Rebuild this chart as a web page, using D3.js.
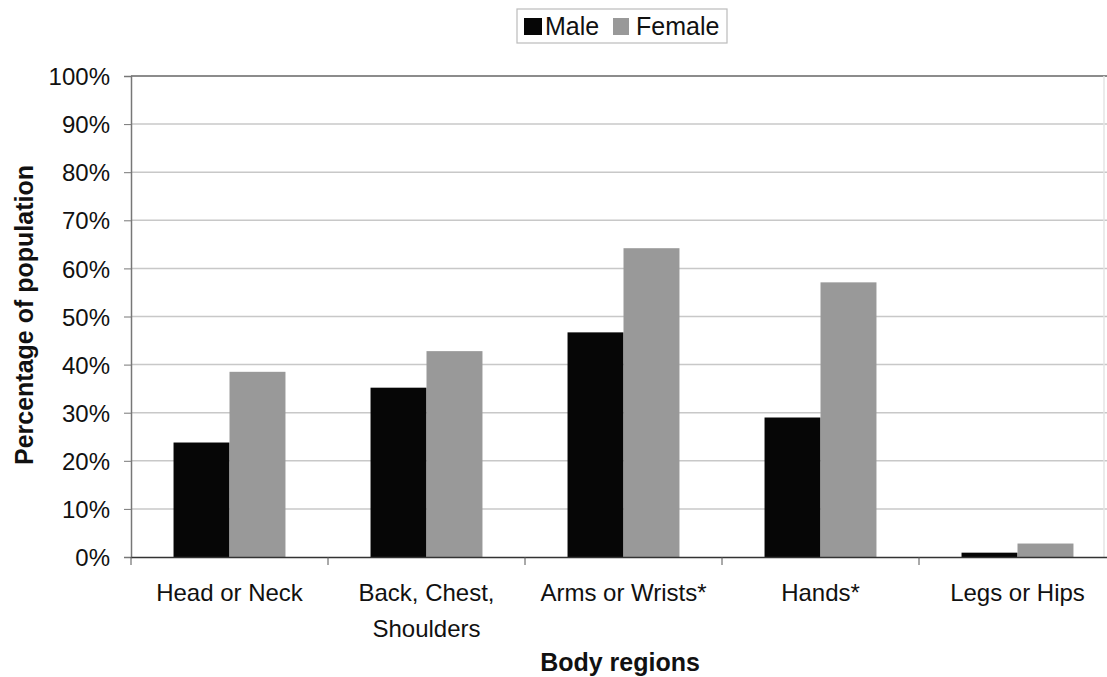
<!DOCTYPE html>
<html><head><meta charset="utf-8">
<script src="https://cdn.jsdelivr.net/npm/d3@7"></script>
<style>body{margin:0;background:#fff}svg{display:block;font-family:"Liberation Sans",Arial,sans-serif}</style>
</head><body><svg id="c" width="1107" height="677"></svg>
<script>
const categories = [["Head or Neck"],["Back, Chest,","Shoulders"],["Arms or Wrists*"],["Hands*"],["Legs or Hips"]];
const seriesNames = ["Male","Female"];
const male = [23.8, 35.2, 46.7, 29.0, 0.9];
const female = [38.5, 42.8, 64.2, 57.1, 2.8];
const yTicks = [0,10,20,30,40,50,60,70,80,90,100];
const colors = ["#060606","#999999"];

const svg = d3.select("#c");
const L = 131, R = 1116, T = 76, B = 557;
const keys = categories.map(c => c.join(" "));
const x = d3.scaleBand().domain(keys).range([L, R]).paddingInner(0).paddingOuter(0);
const xi = d3.scaleBand().domain(seriesNames).range([0, x.bandwidth()]).paddingInner(0).paddingOuter(0.76);
const y = d3.scaleLinear().domain([0,100]).range([B, T]);

// gridlines
svg.append("g").selectAll("line").data(yTicks.filter(t=>t>0)).join("line")
  .attr("x1", L).attr("x2", 1107).attr("y1", d=>y(d)).attr("y2", d=>y(d))
  .attr("stroke", d=> d===100 ? "#666" : "#c8c8c8").attr("stroke-width", 1.5);
svg.append("line").attr("x1",1104).attr("x2",1104).attr("y1",T).attr("y2",B)
  .attr("stroke","#e4e4e4").attr("stroke-width",1.5);

// bars
const data = keys.map((k,i)=>({k, vals:[male[i], female[i]]}));
const g = svg.append("g").selectAll("g").data(data).join("g").attr("transform", d=>`translate(${x(d.k)},0)`);
g.selectAll("rect").data(d=>d.vals.map((v,j)=>({s:seriesNames[j], v, j}))).join("rect")
  .attr("x", d=>xi(d.s)).attr("width", xi.bandwidth())
  .attr("y", d=>y(d.v)).attr("height", d=>B - y(d.v))
  .attr("fill", d=>colors[d.j]);

// y axis
const ya = svg.append("g").attr("transform",`translate(${L},0)`)
  .call(d3.axisLeft(y).tickValues(yTicks).tickFormat(d=>d+"%").tickSize(7).tickPadding(14));
ya.select(".domain").attr("stroke","#777").attr("stroke-width",1.5);
ya.selectAll(".tick line").attr("stroke","#777");
ya.selectAll("text").attr("font-size",24).attr("fill","#111").attr("dy","0.36em");

// x axis
const xa = svg.append("g").attr("transform",`translate(0,${B})`)
  .call(d3.axisBottom(x).tickSize(0).tickFormat(""));
xa.select(".domain").attr("stroke","#333").attr("stroke-width",1.5);
svg.append("g").selectAll("line").data(keys).join("line")
  .attr("x1", d=>x(d)).attr("x2", d=>x(d)).attr("y1", B).attr("y2", B+8)
  .attr("stroke","#555").attr("stroke-width",1);
svg.append("g").selectAll("text").data(categories).join("text")
  .attr("x", (d,i)=>x(keys[i]) + x.bandwidth()/2).attr("y", 601)
  .attr("text-anchor","middle").attr("font-size",24).attr("fill","#111")
  .selectAll("tspan").data(d=>d).join("tspan")
  .attr("x", function(){return this.parentNode.getAttribute("x");})
  .attr("dy", (d,i)=> i===0 ? 0 : 36).text(d=>d);

// axis titles
svg.append("text").attr("x", 620).attr("y", 671).attr("text-anchor","middle")
  .attr("font-size",25).attr("font-weight","bold").attr("fill","#111").text("Body regions");
svg.append("text").attr("transform","translate(33,315) rotate(-90)").attr("text-anchor","middle")
  .attr("font-size",25).attr("font-weight","bold").attr("fill","#111").text("Percentage of population");

// legend
const lg = svg.append("g");
lg.append("rect").attr("x",517).attr("y",9).attr("width",210).attr("height",34)
  .attr("fill","#fff").attr("stroke","#bbb").attr("stroke-width",1.2);
const items = [{x:524, w:18, tx:545}, {x:613, w:16, tx:636}];
seriesNames.forEach((s,i)=>{
  lg.append("rect").attr("x",items[i].x).attr("y",18).attr("width",items[i].w).attr("height",17).attr("fill",colors[i]);
  lg.append("text").attr("x",items[i].tx).attr("y",35).attr("font-size",25).attr("fill","#111").text(s);
});
</script></body></html>
